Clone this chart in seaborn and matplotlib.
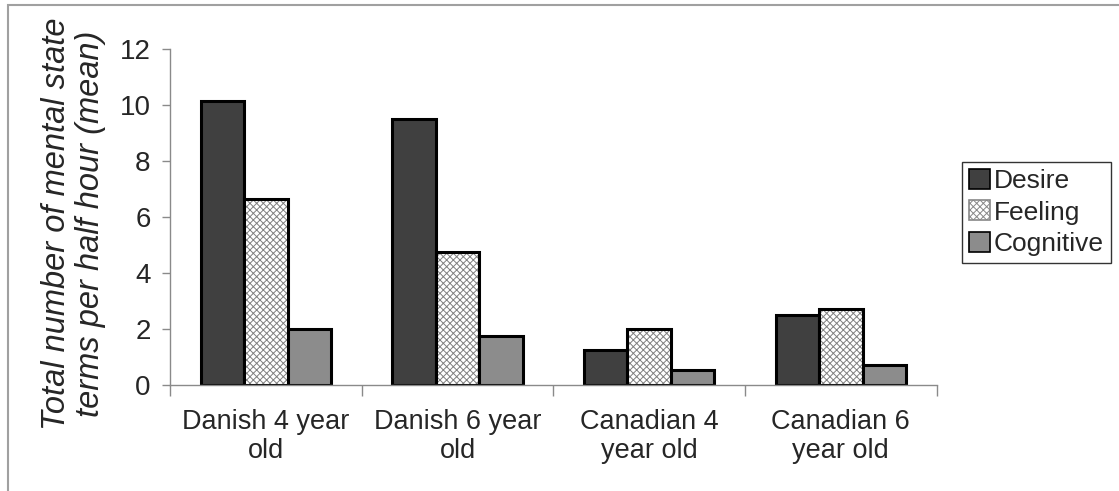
import pandas as pd
import matplotlib
matplotlib.use('Agg')
import matplotlib.pyplot as plt
from matplotlib.patches import Patch, Rectangle
import seaborn as sns

groups = ['Danish 4 year\nold', 'Danish 6 year\nold', 'Canadian 4\nyear old', 'Canadian 6\nyear old']
term_types = ['Desire', 'Feeling', 'Cognitive']
desire = [10.15, 9.52, 1.25, 2.5]
feeling = [6.63, 4.75, 2.0, 2.7]
cognitive = [2.0, 1.75, 0.52, 0.73]

colors = {'Desire': '#404040', 'Feeling': '#ffffff', 'Cognitive': '#8c8c8c'}
hatch_gray = (0.5, 0.5, 0.5, 1)

df = pd.DataFrame({'group': groups * 3,
                   'type': ['Desire'] * 4 + ['Feeling'] * 4 + ['Cognitive'] * 4,
                   'value': desire + feeling + cognitive})

sns.set_style('white')
plt.rcParams['font.family'] = ['Liberation Sans', 'DejaVu Sans']
plt.rcParams['hatch.linewidth'] = 0.7

fig = plt.figure(figsize=(11.19, 4.91), dpi=100)
ax = fig.add_axes([0.152, 0.216, 0.685, 0.684])

sns.barplot(data=df, x='group', y='value', hue='type', hue_order=term_types,
            palette=colors, width=0.68, edgecolor='black', linewidth=2.2,
            saturation=1, legend=False, ax=ax)

# feeling bars get the crosshatch
for bar in ax.containers[1]:
    bar.set_hatch('xxxxx')
    bar._hatch_color = hatch_gray

ax.set_ylim(0, 12)
ax.set_yticks(range(0, 13, 2))
ax.set_xlim(-0.5, 3.5)
ax.set_xlabel('')
ax.set_ylabel('Total number of mental state\nterms per half hour (mean)',
              fontsize=23.5, style='italic', linespacing=1.1)
ax.yaxis.set_label_coords(-0.084, 0.48)

for s in ['top', 'right']:
    ax.spines[s].set_visible(False)
for s in ['left', 'bottom']:
    ax.spines[s].set_color('#8a8a8a')
    ax.spines[s].set_linewidth(1.0)

ax.tick_params(axis='y', labelsize=20, length=6, width=1, color='#8a8a8a',
               direction='out', left=True, pad=8)
ax.tick_params(axis='x', which='major', labelsize=19.5, length=0, pad=17)
for lbl in ax.get_xticklabels():
    lbl.set_linespacing(1.15)
ax.set_xticks([-0.5, 0.5, 1.5, 2.5, 3.5], minor=True)
ax.tick_params(axis='x', which='minor', length=8, width=1, color='#8a8a8a',
               direction='out', bottom=True)

handles = []
for t in term_types:
    h = Patch(facecolor=colors[t], edgecolor='black', linewidth=1.2)
    if t == 'Feeling':
        h.set_hatch('xxxxx')
        h._hatch_color = hatch_gray
        h.set_edgecolor('#888888')
    handles.append(h)
leg = fig.legend(handles=handles, labels=term_types, loc='upper left',
                 bbox_to_anchor=(0.860, 0.670), fontsize=19, frameon=True,
                 fancybox=False, edgecolor='black', handlelength=0.8,
                 handleheight=0.8, handletextpad=0.15, borderpad=0.25,
                 labelspacing=0.28, borderaxespad=0)
leg.get_frame().set_linewidth(1.0)

# outer frame of the chart area
fig.patches.append(Rectangle((8 / 1119, -0.05), 1.0, 1 - 5.5 / 491 + 0.05,
                             transform=fig.transFigure, fill=False,
                             edgecolor='#a0a0a0', linewidth=1.5))

fig.savefig('out.png', dpi=100)
